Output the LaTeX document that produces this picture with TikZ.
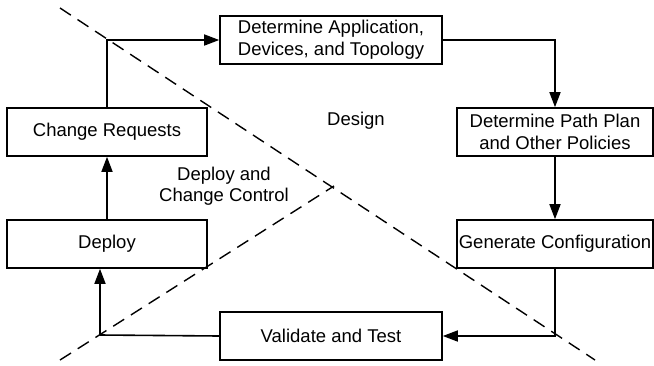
\documentclass[tikz,border=0pt]{standalone}
\usepackage{fontspec}
\setmainfont{Liberation Sans}
\usetikzlibrary{arrows.meta}
\begin{document}
\begin{tikzpicture}[x=1pt,y=-1pt,
  stepbox/.style={draw,line width=1.6pt,minimum height=48pt,inner sep=0pt,align=center,
    font=\fontsize{18.5}{22}\selectfont},
  flow/.style={line width=1.6pt,-{Triangle[length=15pt,width=11pt]}},
  plain/.style={line width=1.6pt},
  split/.style={line width=1.4pt,dash pattern=on 13pt off 8pt},
  lbl/.style={align=center,font=\fontsize{18.5}{21}\selectfont}]
\useasboundingbox (0,0) rectangle (654,365);

% process boxes
\node[stepbox,minimum width=222pt] (app) at (331,40) {Determine Application,\\Devices, and Topology};
\node[stepbox,minimum width=196pt] (path) at (555,132) {Determine Path Plan\\and Other Policies};
\node[stepbox,minimum width=196pt] (gen) at (555,244) {Generate Configuration};
\node[stepbox,minimum width=222pt] (val) at (331,336) {Validate and Test};
\node[stepbox,minimum width=200pt] (dep) at (107,244) {Deploy};
\node[stepbox,minimum width=200pt] (chg) at (107,132) {Change Requests};

% phase labels
\node[lbl] (design) at (356,121) {Design};
\node[lbl] (deployctl) at (224,186) {Deploy and\\Change Control};

% phase boundaries
\coordinate (d1a) at (60,8);
\coordinate (d1b) at (595,360);
\coordinate (d2a) at (60,360);
\coordinate (d2b) at (334,186);
\draw[split] (d1a) -- (d1b);
\draw[split] (d2a) -- (d2b);

% cycle connectors
\coordinate (vcorner) at (100,335);
\draw[flow] (chg.north) |- (app.west);
\draw[flow] (app.east) -| (path.north);
\draw[flow] (path) -- (gen);
\draw[flow] (gen.south) |- (val.east);
\draw[plain] (val.west) -- (vcorner);
\draw[flow] (vcorner) -- (vcorner |- dep.south);
\draw[flow] (dep) -- (chg);
\end{tikzpicture}
\end{document}
